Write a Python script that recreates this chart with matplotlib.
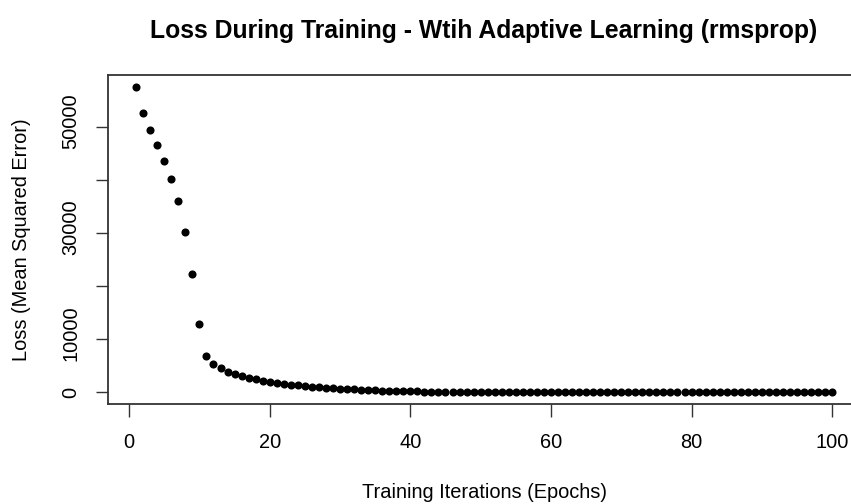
import numpy as np
import matplotlib.pyplot as plt
from matplotlib.transforms import ScaledTranslation

plt.rcParams['font.family'] = ['Liberation Sans', 'DejaVu Sans']

# mean squared error per epoch (rmsprop run)
loss = [
    57600, 52700, 49500, 46600, 43600, 40300, 36100, 30200, 22300, 12800,
    6900, 5300, 4500, 3900, 3400, 3050, 2750, 2450, 2150, 1920,
    1760, 1610, 1470, 1340, 1210, 1090, 980, 880, 780, 690,
    610, 540, 475, 415, 365, 320, 280, 245, 215, 185,
    165, 150, 140, 132, 125, 119, 114, 110, 106, 103,
    100, 97, 95, 93, 91, 89, 87, 85, 83, 82,
    80, 79, 77, 76, 75, 73, 72, 71, 70, 69,
    68, 67, 66, 65, 64, 63, 62, 61, 60, 60,
    59, 58, 57, 57, 56, 55, 55, 54, 53, 53,
    52, 52, 51, 51, 50, 50, 49, 49, 48, 48,
]
epochs = np.arange(1, len(loss) + 1)

x_ticks = [0, 20, 40, 60, 80, 100]
y_ticks = [0, 10000, 20000, 30000, 40000, 50000]
y_tick_labels = ['0', '10000', '', '30000', '', '50000']

fig = plt.figure(figsize=(8.51, 5.04), dpi=100)
# plot region runs a little past the right edge of the canvas
ax = fig.add_axes([108.3 / 851, 99.7 / 504, 751.7 / 851, 329.6 / 504])

ax.scatter(epochs, loss, s=34, color='black', linewidths=0, zorder=3)

# R-style 4% padding around the data range
def padded(lo, hi):
    r = hi - lo
    return lo - 0.04 * r, hi + 0.04 * r

ax.set_xlim(*padded(epochs.min(), epochs.max()))
ax.set_ylim(*padded(min(loss), max(loss)))

ax.set_xticks(x_ticks)
ax.set_yticks(y_ticks)
ax.set_yticklabels(y_tick_labels, rotation=90, va='center')
ax.tick_params(axis='both', direction='out', length=9, width=1.0,
               color='#333333', labelsize=14.4)
ax.tick_params(axis='x', pad=12)
ax.tick_params(axis='y', pad=11)

# long y labels sit a touch above their ticks
nudge = ScaledTranslation(0, 6 / 100, fig.dpi_scale_trans)
for lab in ax.get_yticklabels():
    if len(lab.get_text()) > 1:
        lab.set_transform(lab.get_transform() + nudge)

for side in ax.spines.values():
    side.set_color('#333333')
    side.set_linewidth(1.3)

fig.text(484 / 851, 1 - 31 / 504,
         'Loss During Training - Wtih Adaptive Learning (rmsprop)',
         ha='center', va='center', fontsize=17.8, fontweight='bold')
fig.text(484 / 851, 1 - 493 / 504, 'Training Iterations (Epochs)',
         ha='center', va='center', fontsize=14.4)
fig.text(22 / 851, 1 - 240 / 504, 'Loss (Mean Squared Error)',
         ha='center', va='center', rotation=90, fontsize=14.4)

fig.savefig('out.png', dpi=100)
